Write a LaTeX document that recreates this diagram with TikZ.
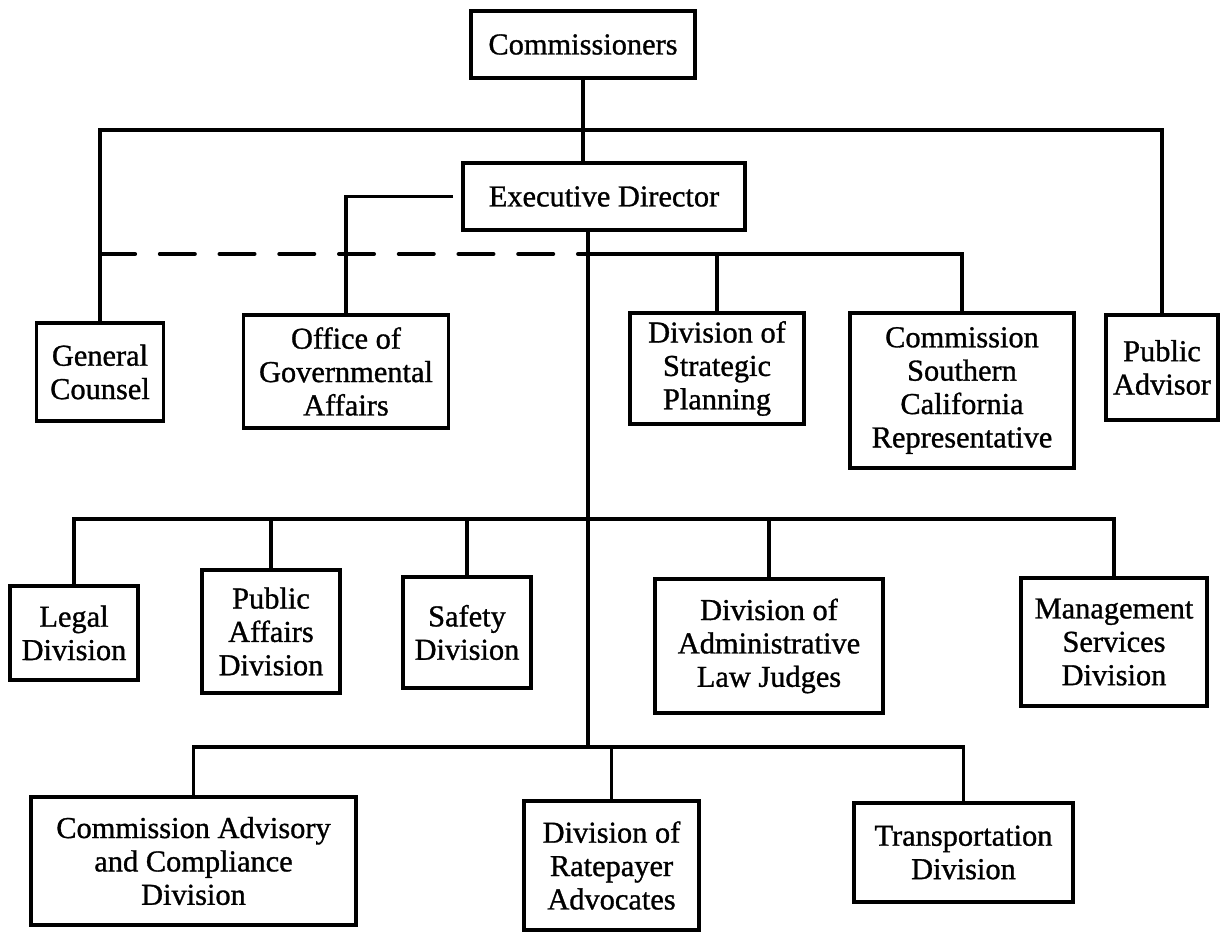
\documentclass[tikz,border=0pt]{standalone}
\usepackage{fontspec}
\newfontfamily\chartfont[FakeBold=1]{Liberation Serif}
\begin{document}
\begin{tikzpicture}[x=0.02cm,y=-0.02cm,line width=2.2pt,
  box/.style={draw, align=center, inner sep=0pt, font=\chartfont\fontsize{17.3}{19}\selectfont},
  staff/.style={dash pattern=on 20pt off 14pt, line cap=round}]
  \useasboundingbox (0,0) rectangle (1221,932);

  \node[box, minimum width=4.48cm, minimum height=1.34cm] (Com) at (583,44.5) {Commissioners};
  \node[box, minimum width=5.64cm, minimum height=1.34cm] (Exe) at (604,196.5) {Executive Director};

  \node[box, minimum width=2.54cm, minimum height=1.96cm] (GC) at (100,372) {General\\Counsel};
  \node[box, minimum width=4.1cm, minimum height=2.26cm] (OGA) at (346,371.5) {Office of\\Governmental\\Affairs};
  \node[box, minimum width=3.48cm, minimum height=2.22cm] (DSP) at (717,368.5) {Division of\\Strategic\\Planning};
  \node[box, minimum width=4.48cm, minimum height=3.1cm] (CSR) at (962,390.5) {Commission\\Southern\\California\\Representative};
  \node[box, minimum width=2.24cm, minimum height=2.1cm] (PA) at (1162,367.5) {Public\\Advisor};

  \node[box, minimum width=2.56cm, minimum height=1.88cm] (Leg) at (74,633) {Legal\\Division};
  \node[box, minimum width=2.76cm, minimum height=2.46cm] (PAD) at (271,631.5) {Public\\Affairs\\Division};
  \node[box, minimum width=2.56cm, minimum height=2.22cm] (Saf) at (467,632.5) {Safety\\Division};
  \node[box, minimum width=4.56cm, minimum height=2.68cm] (ALJ) at (769,646) {Division of\\Administrative\\Law Judges};
  \node[box, minimum width=3.72cm, minimum height=2.56cm] (MSD) at (1114,642) {Management\\Services\\Division};

  \node[box, minimum width=6.5cm, minimum height=2.56cm] (CAC) at (193.5,861) {Commission Advisory\\and Compliance\\Division};
  \node[box, minimum width=3.5cm, minimum height=2.58cm] (DRA) at (611.5,865.5) {Division of\\Ratepayer\\Advocates};
  \node[box, minimum width=4.38cm, minimum height=1.98cm] (Tra) at (963.5,852.5) {Transportation\\Division};

  \coordinate (Top) at (583,130);
  \coordinate (Staff) at (588,254);
  \coordinate (Mid) at (588,519);
  \coordinate (Low) at (588,747);

  \draw (Com) -- (Com |- Exe.north);
  \draw (GC.north) |- (Top) -| (PA.north);
  \draw[shorten <=4.5pt] (Exe.west) -| (OGA.north);
  \draw (Exe.south -| Mid) -- (Low);

  \draw[staff] (GC.north |- Staff) -- (Staff);
  \draw (Staff) -| (CSR.north);
  \draw (DSP.north) -- (DSP.north |- Staff);

  \draw (Leg.north) |- (Mid) -| (MSD.north);
  \foreach \n in {PAD,Saf,ALJ}
    \draw (\n.north) -- (\n.north |- Mid);

  \draw (CAC.north) |- (Low) -| (Tra.north);
  \draw (DRA.north) -- (DRA.north |- Low);
\end{tikzpicture}
\end{document}
